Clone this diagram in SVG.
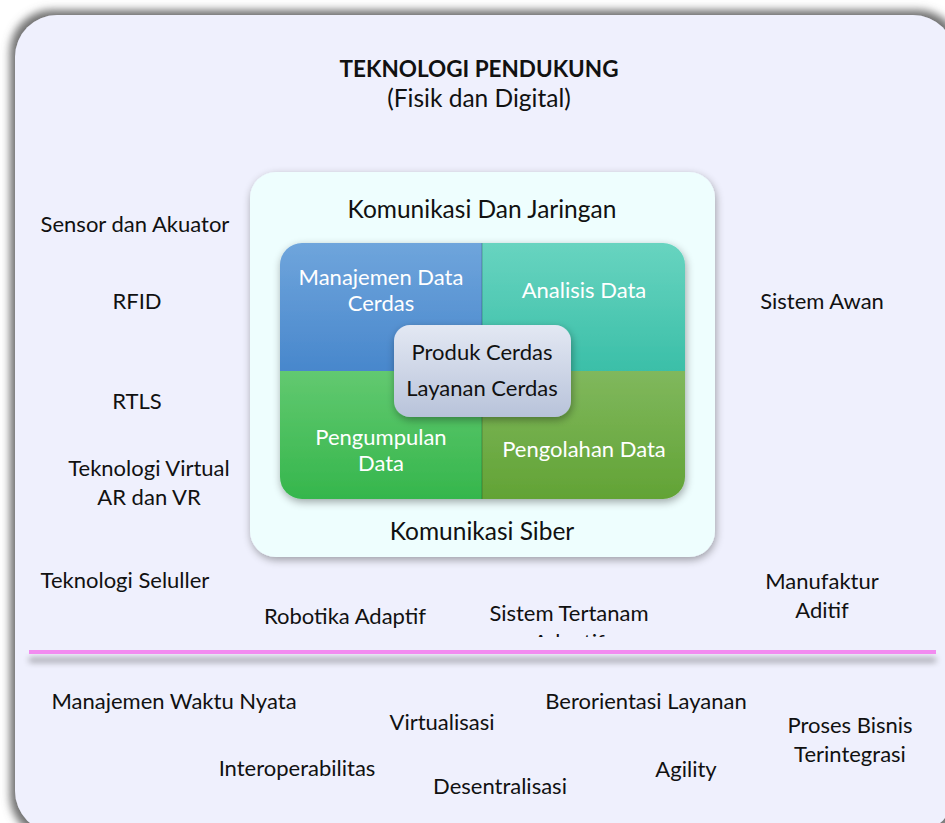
<svg xmlns="http://www.w3.org/2000/svg" width="945" height="823" viewBox="0 0 945 823">
  <defs>
    <style>
      text { font-family: Lato, "Open Sans", "Liberation Sans", sans-serif; font-size: 22px; fill: #111; text-anchor: middle; }
      .title { font-weight: bold; font-size: 22.5px; }
      .big { font-size: 24.5px; }
      .light { fill: #fff; }
    </style>
    <!-- soft grey halo round the outer frame -->
    <filter id="frameShadow" filterUnits="userSpaceOnUse" x="-20" y="-20" width="1000" height="880">
      <feMorphology in="SourceAlpha" operator="dilate" radius="5" result="grown"/>
      <feGaussianBlur in="grown" stdDeviation="4" result="blur"/>
      <feFlood flood-color="#707070" flood-opacity="1"/>
      <feComposite in2="blur" operator="in"/>
      <feMerge><feMergeNode/><feMergeNode in="SourceGraphic"/></feMerge>
    </filter>
    <filter id="boxShadow" x="-10%" y="-10%" width="120%" height="125%">
      <feGaussianBlur in="SourceAlpha" stdDeviation="4"/>
      <feOffset dx="1" dy="3"/>
      <feComponentTransfer><feFuncA type="linear" slope="0.35"/></feComponentTransfer>
      <feMerge><feMergeNode/><feMergeNode in="SourceGraphic"/></feMerge>
    </filter>
    <filter id="lineShadow" filterUnits="userSpaceOnUse" x="0" y="630" width="945" height="50">
      <feGaussianBlur in="SourceAlpha" stdDeviation="3"/>
      <feOffset dx="0" dy="8"/>
      <feComponentTransfer><feFuncA type="linear" slope="0.4"/></feComponentTransfer>
      <feMerge><feMergeNode/><feMergeNode in="SourceGraphic"/></feMerge>
    </filter>
    <linearGradient id="gBlue" x1="0" y1="0" x2="0" y2="1"><stop offset="0" stop-color="#6FA5DC"/><stop offset="1" stop-color="#4887CC"/></linearGradient>
    <linearGradient id="gTeal" x1="0" y1="0" x2="0" y2="1"><stop offset="0" stop-color="#68D4C0"/><stop offset="1" stop-color="#3BBFA8"/></linearGradient>
    <linearGradient id="gGreen" x1="0" y1="0" x2="0" y2="1"><stop offset="0" stop-color="#62C970"/><stop offset="1" stop-color="#35B64C"/></linearGradient>
    <linearGradient id="gOlive" x1="0" y1="0" x2="0" y2="1"><stop offset="0" stop-color="#80B85D"/><stop offset="1" stop-color="#62A335"/></linearGradient>
    <linearGradient id="gCore" x1="0" y1="0" x2="0" y2="1"><stop offset="0" stop-color="#E3E8F3"/><stop offset="1" stop-color="#B8C3DA"/></linearGradient>
    <clipPath id="panelClip"><rect x="280" y="243" width="405" height="256" rx="22"/></clipPath>
    <clipPath id="cutClip"><rect x="0" y="0" width="945" height="637"/></clipPath>
  </defs>

  <rect width="945" height="823" fill="#fff"/>

  <!-- outer frame -->
  <g id="frame">
    <rect x="15" y="15" width="940" height="818" rx="42" fill="#EFF0FD" filter="url(#frameShadow)"/>
  </g>

  <g id="heading">
    <text class="title" x="479" y="77">TEKNOLOGI PENDUKUNG</text>
    <text class="big" x="479" y="107">(Fisik dan Digital)</text>
  </g>

  <!-- communication box -->
  <g id="comm-box">
    <rect x="250" y="172" width="465" height="385" rx="26" fill="#EEFEFE" filter="url(#boxShadow)"/>
    <text class="big" x="482" y="218">Komunikasi Dan Jaringan</text>
    <text class="big" x="482" y="540">Komunikasi Siber</text>
  </g>

  <!-- data quadrants -->
  <g id="quadrants" filter="url(#boxShadow)">
    <g clip-path="url(#panelClip)">
      <rect x="280" y="243" width="202" height="128" fill="url(#gBlue)"/>
      <rect x="482" y="243" width="203" height="128" fill="url(#gTeal)"/>
      <rect x="280" y="371" width="202" height="128" fill="url(#gGreen)"/>
      <rect x="482" y="371" width="203" height="128" fill="url(#gOlive)"/>
      <line x1="482" y1="243" x2="482" y2="499" stroke="#000" stroke-opacity="0.12" stroke-width="2"/>
    </g>
  </g>
  <g id="q-manajemen">
    <text class="light" x="381" y="285">Manajemen Data</text>
    <text class="light" x="381" y="311">Cerdas</text>
  </g>
  <g id="q-analisis">
    <text class="light" x="584" y="298">Analisis Data</text>
  </g>
  <g id="q-pengumpulan">
    <text class="light" x="381" y="445">Pengumpulan</text>
    <text class="light" x="381" y="471">Data</text>
  </g>
  <g id="q-pengolahan">
    <text class="light" x="584" y="457">Pengolahan Data</text>
  </g>

  <g id="core">
    <rect x="394" y="325" width="177" height="92" rx="16" fill="url(#gCore)" filter="url(#boxShadow)"/>
    <text x="482" y="360">Produk Cerdas</text>
    <text x="482" y="396">Layanan Cerdas</text>
  </g>

  <!-- supporting technologies -->
  <g id="t-sensor"><text x="135" y="232">Sensor dan Akuator</text></g>
  <g id="t-rfid"><text x="137" y="309">RFID</text></g>
  <g id="t-rtls"><text x="137" y="409">RTLS</text></g>
  <g id="t-virtual">
    <text x="149" y="476">Teknologi Virtual</text>
    <text x="149" y="505">AR dan VR</text>
  </g>
  <g id="t-seluler"><text x="125" y="588">Teknologi Seluller</text></g>
  <g id="t-robotika"><text x="345" y="624">Robotika Adaptif</text></g>
  <g id="t-tertanam" clip-path="url(#cutClip)">
    <text x="569" y="621">Sistem Tertanam</text>
    <text x="569" y="650">Adaptif</text>
  </g>
  <g id="t-awan"><text x="822" y="309">Sistem Awan</text></g>
  <g id="t-aditif">
    <text x="822" y="589">Manufaktur</text>
    <text x="822" y="618">Aditif</text>
  </g>

  <!-- separator -->
  <g id="separator">
    <rect x="29" y="650" width="907" height="4" fill="#F28BF0" filter="url(#lineShadow)"/>
  </g>

  <!-- design principles -->
  <g id="p-waktu"><text x="174" y="709">Manajemen Waktu Nyata</text></g>
  <g id="p-virtualisasi"><text x="442" y="730">Virtualisasi</text></g>
  <g id="p-layanan"><text x="646" y="709">Berorientasi Layanan</text></g>
  <g id="p-bisnis">
    <text x="850" y="733">Proses Bisnis</text>
    <text x="850" y="762">Terintegrasi</text>
  </g>
  <g id="p-interop"><text x="297" y="776">Interoperabilitas</text></g>
  <g id="p-desentral"><text x="500" y="794">Desentralisasi</text></g>
  <g id="p-agility"><text x="686" y="777">Agility</text></g>
</svg>
